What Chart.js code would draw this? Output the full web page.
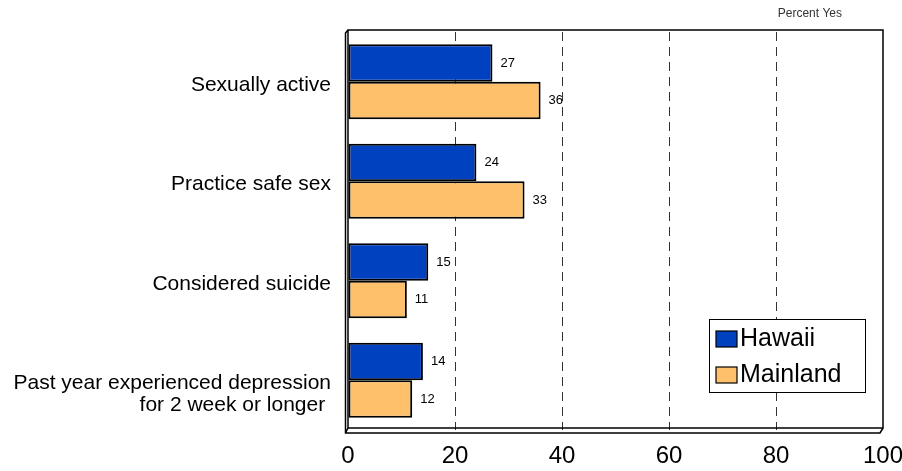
<!DOCTYPE html>
<html>
<head>
<meta charset="utf-8">
<script src="https://cdn.jsdelivr.net/npm/chart.js@4.4.1/dist/chart.umd.min.js"></script>
<style>
  html, body { margin: 0; padding: 0; background: #fff; }
  #wrap { width: 902px; height: 471px; position: relative; }
</style>
</head>
<body>
<div id="wrap"><canvas id="chart"></canvas></div>
<script>
// survey answers, percent yes
const categories = [
    "Sexually active",
    "Practice safe sex",
    "Considered suicide",
    ["", "Past year experienced depression", "for 2 week or longer "]
];
const hawaiiValues = [27, 24, 15, 14];
const mainlandValues = [36, 33, 11, 12];
const xTicks = [0, 20, 40, 60, 80, 100];
const unitLabel = "Percent Yes";

const FONT = "'Liberation Sans', Arial, sans-serif";

// box frame with a little depth on the left and bottom
const framePlugin = {
    id: "frame",
    beforeDatasetsDraw(chart) {
        const { ctx, chartArea: a } = chart;
        const top = a.top - 2, bottom = a.bottom - 2;
        ctx.save();
        ctx.strokeStyle = "#000";
        ctx.lineWidth = 1.5;
        ctx.beginPath();
        // back wall
        ctx.moveTo(a.left, bottom);
        ctx.lineTo(a.left, top);
        ctx.lineTo(a.right, top);
        ctx.lineTo(a.right, bottom);
        ctx.lineTo(a.left, bottom);
        // front edges
        ctx.moveTo(a.left, top);
        ctx.lineTo(a.left - 2.5, top + 3);
        ctx.lineTo(a.left - 2.5, bottom + 5);
        ctx.lineTo(a.right - 3, bottom + 5);
        ctx.lineTo(a.right, bottom);
        ctx.moveTo(a.left - 2.5, bottom + 5);
        ctx.lineTo(a.left, bottom);
        ctx.stroke();
        ctx.restore();
    }
};

// value next to the end of each bar, plus the unit caption
const valuePlugin = {
    id: "values",
    afterDatasetsDraw(chart) {
        const { ctx } = chart;
        ctx.save();
        ctx.fillStyle = "#000";
        ctx.font = "13px " + FONT;
        ctx.textBaseline = "middle";
        ctx.textAlign = "left";
        chart.data.datasets.forEach((ds, i) => {
            chart.getDatasetMeta(i).data.forEach((bar, j) => {
                ctx.fillText(String(ds.data[j]), bar.x + 8, bar.y);
            });
        });
        ctx.fillStyle = "#333";
        ctx.font = "12px " + FONT;
        ctx.textAlign = "right";
        ctx.fillText(unitLabel, chart.chartArea.right - 41, 14);
        ctx.restore();
    }
};

// legend box sitting inside the plot, bottom right
const legendPlugin = {
    id: "boxLegend",
    afterDraw(chart) {
        const { ctx, chartArea: a } = chart;
        const x = a.right - 174, y = a.bottom - 111, w = 156, h = 73;
        ctx.save();
        ctx.fillStyle = "#fff";
        ctx.fillRect(x, y, w, h);
        ctx.strokeStyle = "#000";
        ctx.lineWidth = 1;
        ctx.strokeRect(x + 0.5, y + 0.5, w, h);
        ctx.font = "25px " + FONT;
        ctx.textBaseline = "middle";
        chart.data.datasets.forEach((ds, i) => {
            const ry = y + 12 + i * 36;
            ctx.fillStyle = ds.backgroundColor;
            ctx.fillRect(x + 7, ry, 21, 16);
            ctx.lineWidth = 1.2;
            ctx.strokeRect(x + 7, ry, 21, 16);
            ctx.fillStyle = "#000";
            ctx.fillText(ds.label, x + 31, ry + 8);
        });
        ctx.restore();
    }
};

new Chart(document.getElementById("chart"), {
    type: "bar",
    data: {
        labels: categories,
        datasets: [
            {
                label: "Hawaii",
                data: hawaiiValues,
                backgroundColor: "#0041C0",
                borderColor: "#000",
                borderWidth: 2,
                borderSkipped: false
            },
            {
                label: "Mainland",
                data: mainlandValues,
                backgroundColor: "#FFC06B",
                borderColor: "#000",
                borderWidth: 2,
                borderSkipped: false
            }
        ]
    },
    options: {
        indexAxis: "y",
        responsive: true,
        maintainAspectRatio: false,
        animation: false,
        layout: { padding: { top: 32, right: 19, left: 0, bottom: 0 } },
        datasets: { bar: { barPercentage: 1, categoryPercentage: 0.755 } },
        plugins: {
            legend: { display: false },
            tooltip: { enabled: false }
        },
        scales: {
            x: {
                min: 0,
                max: 100,
                afterBuildTicks: (scale) => { scale.ticks = xTicks.map(v => ({ value: v })); },
                afterFit: (scale) => {
                    scale.height = 41;
                    scale.paddingLeft = 0;
                    scale.paddingRight = 0;
                },
                ticks: {
                    color: "#000",
                    font: { family: FONT, size: 24 },
                    padding: 12,
                    maxRotation: 0
                },
                grid: {
                    drawTicks: false,
                    lineWidth: 1,
                    color: (c) => (c.tick && (c.tick.value === 0 || c.tick.value === 100)) ? "rgba(0,0,0,0)" : "#333"
                },
                border: { display: false, dash: [9, 6] }
            },
            y: {
                afterFit: (scale) => {
                    scale.width = 348;
                    scale.paddingTop = 0;
                    scale.paddingBottom = 0;
                },
                ticks: {
                    color: "#000",
                    font: { family: FONT, size: 21, lineHeight: 1.05 },
                    padding: 17,
                    labelOffset: 3
                },
                grid: { display: false, drawTicks: false },
                border: { display: false }
            }
        }
    },
    plugins: [framePlugin, valuePlugin, legendPlugin]
});
</script>
</body>
</html>
